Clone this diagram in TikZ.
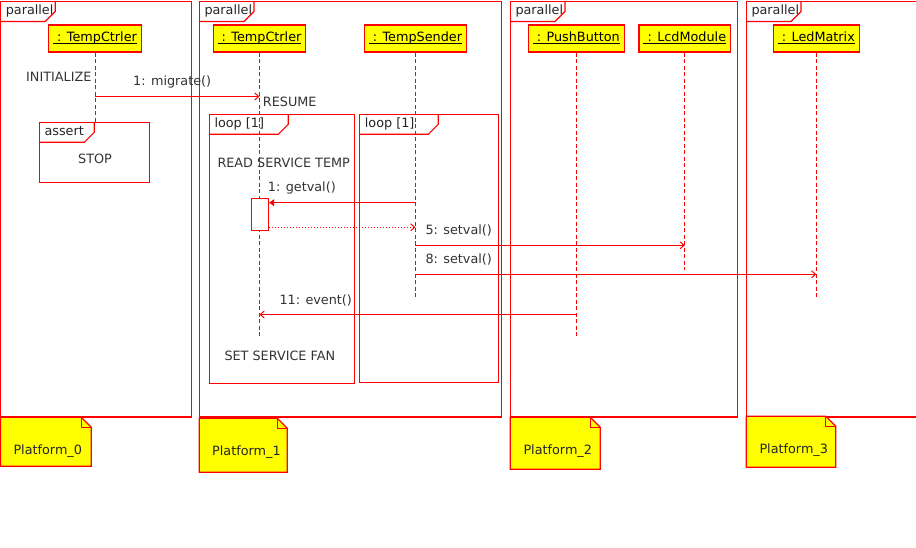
\documentclass[tikz,border=0pt]{standalone}
\usepackage{fontspec}
\setmainfont{DejaVu Sans}
\usetikzlibrary{arrows.meta}
\definecolor{lnred}{RGB}{255,0,0}
\definecolor{ylw}{RGB}{255,255,0}
\definecolor{txtg}{RGB}{51,51,51}
\newcommand\actorul[1]{\setbox0\hbox{#1}\rlap{\rule[-2.6pt]{\wd0}{0.9pt}}\box0}
% #1 name, #2 x1, #3 y1, #4 x2, #5 y2, #6 tab width, #7 label
\newcommand\sdfrm[7]{%
  \draw[frm] (#2,#3) rectangle (#4,#5);
  \draw[frm] (#2,#3+20) -- (#2+#6-10,#3+20) -- (#2+#6,#3+10) -- (#2+#6,#3);
  \node[tablbl] (#1) at (#2+5,#3+13) {#7};}
% #1 name, #2 x1, #3 y1, #4 x2, #5 y2, #6 text x, #7 baseline, #8 text
\newcommand\sdnote[8]{%
  \draw[notebox] (#2,#3) -- (#4-10,#3) -- (#4,#3+10) -- (#4,#5) -- (#2,#5) -- cycle;
  \draw[frm] (#4-10,#3) -- (#4-10,#3+10) -- (#4,#3+10);
  \node[lbl,text=black!85] (#1) at (#6,#7) {#8};}
\tikzset{
  fnt/.style={font=\fontsize{12.8}{15}\selectfont},
  frm/.style={draw=lnred, line width=1.2pt},
  notebox/.style={draw=lnred, fill=ylw, line width=1.2pt},
  lbl/.style={fnt, anchor=base west, inner sep=0pt, text=txtg},
  tablbl/.style={lbl, text=black!85},
  actor/.style={fnt, draw=lnred, fill=ylw, line width=1.2pt, inner xsep=4.4pt,
    inner ysep=7pt, text height=9.5pt, text depth=3.5pt, text=black},
  life/.style={draw=lnred, line width=1pt, dash pattern=on 4pt off 2.5pt},
  msg/.style={draw=lnred, line width=1pt, -{Straight Barb[length=4pt,width=7pt]}},
  msgfill/.style={draw=lnred, line width=1pt, -{Triangle[length=5pt,width=7pt]}},
  ret/.style={draw=lnred, line width=1pt, dash pattern=on 1pt off 2pt,
    -{Straight Barb[length=4pt,width=7pt]}},
  actbox/.style={draw=lnred, fill=white, line width=1pt, minimum width=17.4pt,
    minimum height=32pt, inner sep=0pt}
}
\begin{document}
\begin{tikzpicture}[x=1pt,y=-1pt]
\useasboundingbox (0,0) rectangle (916,548);
\clip (0,0) rectangle (916,548);
\fill[white] (0,0) rectangle (916,548);

% parallel frames
\sdfrm{p0}{0.6}{1.5}{191.5}{417}{54.7}{parallel}
\sdfrm{p1}{199.3}{1.5}{501.7}{417}{54.7}{parallel}
\sdfrm{p2}{510.3}{1.5}{737.7}{417}{54.7}{parallel}
\sdfrm{p3}{746.3}{1.5}{940}{417}{54.7}{parallel}

% actors
\node[actor] (c0) at (95,38.5) {\actorul{\ : TempCtrler}};
\node[actor] (c1) at (259.5,38.5) {\actorul{\ : TempCtrler}};
\node[actor] (ts) at (415.4,38.5) {\actorul{\ : TempSender}};
\node[actor] (pb) at (576.3,38.5) {\actorul{\ : PushButton}};
\node[actor] (lc) at (684.8,38.5) {\actorul{\ : LcdModule}};
\node[actor] (lm) at (816.3,38.5) {\actorul{\ : LedMatrix}};

% lifeline ends
\coordinate (c0end) at (95,122.3);
\coordinate (c1end) at (259.5,337);
\coordinate (tsend) at (415.4,298);
\coordinate (pbend) at (576.3,337);
\coordinate (lcend) at (684.8,270);
\coordinate (lmend) at (816.3,298);
\draw[life] (c0.south) -- (c0end);
\draw[life] (c1.south) -- (c1end);
\draw[life] (ts.south) -- (tsend);
\draw[life] (pb.south) -- (pbend);
\draw[life] (lc.south) -- (lcend);
\draw[life] (lm.south) -- (lmend);

% combined fragments
\sdfrm{as0}{39.3}{122.3}{149.3}{182.3}{55}{assert}
\sdfrm{lp1}{209.3}{114.3}{354.3}{383.3}{79}{loop [1]}
\sdfrm{lp2}{359.7}{114.3}{498.7}{382.3}{78.6}{loop [1]}

% state texts
\node[lbl] (init) at (26,81.3) {INITIALIZE};
\node[lbl] (resume) at (262.7,106.3) {RESUME};
\node[lbl,anchor=base] (stop) at (95,164) {STOP};
\node[lbl] (rst) at (217.3,167.3) {READ SERVICE TEMP};
\node[lbl] (ssf) at (224.3,360.6) {SET SERVICE FAN};

% activation
\node[actbox] (actv) at (260,214.3) {};

% messages
\coordinate (m1s) at (95,96.5);
\coordinate (m1e) at (259.5,96.5);
\draw[msg] (m1s) -- (m1e);
\node[lbl] (m1l) at (133,86) {1: migrate()};

\coordinate (gvs) at (415.4,202.7);
\draw[msgfill] (gvs) -- (actv.east |- gvs);
\node[lbl] (gvl) at (267.7,192) {1: getval()};

\coordinate (rts) at (415.4,227.3);
\draw[ret] (actv.east |- rts) -- (rts);

\coordinate (s5s) at (415.4,245.3);
\coordinate (s5e) at (684.8,245.3);
\draw[msg] (s5s) -- (s5e);
\node[lbl] (s5l) at (425.3,235) {5: setval()};

\coordinate (s8s) at (415.4,274.3);
\coordinate (s8e) at (816.3,274.3);
\draw[msg] (s8s) -- (s8e);
\node[lbl] (s8l) at (425.3,264) {8: setval()};

\coordinate (evs) at (576.3,314.5);
\coordinate (eve) at (259.5,314.5);
\draw[msg] (evs) -- (eve);
\node[lbl] (evl) at (279.3,304) {11: event()};

% notes
\sdnote{n0}{0.6}{417.3}{91.3}{466.3}{13.3}{454}{Platform\_0}
\sdnote{n1}{199.3}{418.3}{287.3}{472.3}{212}{455}{Platform\_1}
\sdnote{n2}{510.3}{417.3}{600.3}{469.3}{523.3}{454}{Platform\_2}
\sdnote{n3}{746.3}{416.3}{835.7}{467.3}{759.3}{453}{Platform\_3}
\end{tikzpicture}
\end{document}
